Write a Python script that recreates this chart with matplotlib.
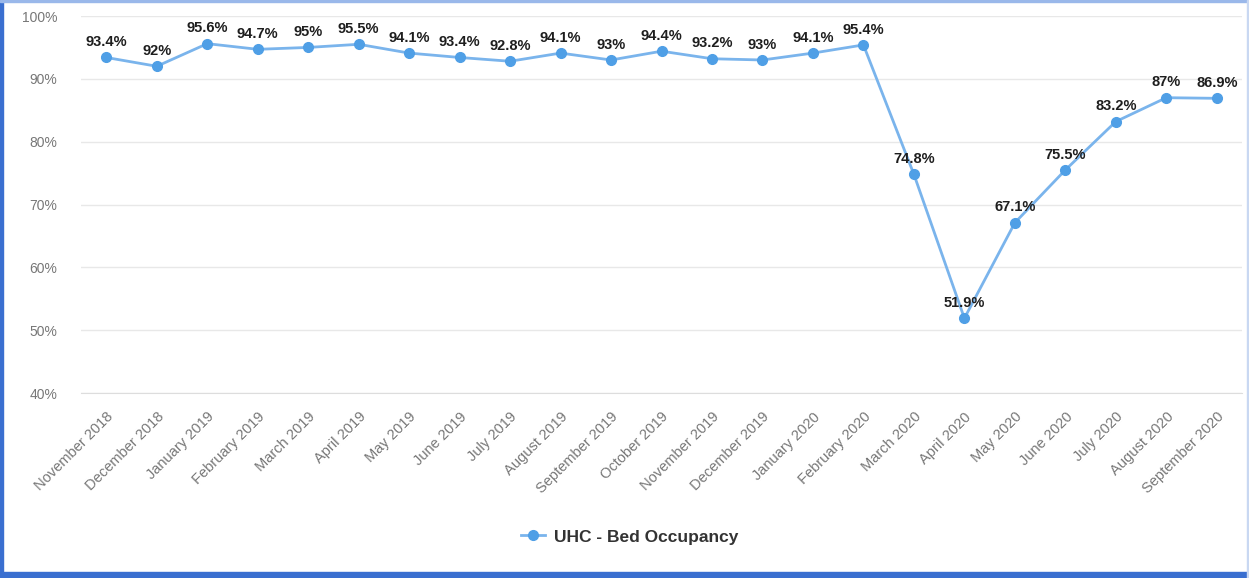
import matplotlib.pyplot as plt
from matplotlib.patches import Rectangle

plt.rcParams['font.family'] = ['Liberation Sans', 'DejaVu Sans']

# 数据
months = ['November 2018', 'December 2018', 'January 2019', 'February 2019', 'March 2019',
          'April 2019', 'May 2019', 'June 2019', 'July 2019', 'August 2019',
          'September 2019', 'October 2019', 'November 2019', 'December 2019',
          'January 2020', 'February 2020', 'March 2020', 'April 2020', 'May 2020',
          'June 2020', 'July 2020', 'August 2020', 'September 2020']
occupancy = [93.4, 92, 95.6, 94.7, 95, 95.5, 94.1, 93.4, 92.8, 94.1, 93, 94.4, 93.2,
             93, 94.1, 95.4, 74.8, 51.9, 67.1, 75.5, 83.2, 87, 86.9]
y_ticks = [40, 50, 60, 70, 80, 90, 100]

fig = plt.figure(figsize=(12.49, 5.78), dpi=100)
ax = fig.add_axes([0.0649, 0.320, 0.9295, 0.6523])

x = list(range(len(months)))
ax.plot(x, occupancy, color='#7ab4ec', linewidth=2, marker='o', markersize=7,
        markerfacecolor='#4f9fe6', markeredgecolor='#4f9fe6', label='UHC - Bed Occupancy',
        zorder=3)

# 数值标签
for xi, v in zip(x, occupancy):
    ax.annotate(f"{v:g}%", xy=(xi, v), xytext=(0, 6), textcoords='offset points',
                ha='center', va='bottom', fontsize=10.5, fontweight='bold', color='#1e1e1e')

ax.set_xlim(-0.5, len(months) - 0.5)
ax.set_ylim(40, 100)
ax.set_yticks(y_ticks)
ax.set_yticklabels([f"{t}%" for t in y_ticks])
ax.set_xticks(x)
ax.set_xticklabels(months, rotation=45, ha='right', rotation_mode='anchor')
ax.tick_params(axis='both', length=0, colors='#777777')
ax.tick_params(axis='y', labelsize=10, pad=17)
ax.tick_params(axis='x', labelsize=10.5, pad=12)
ax.grid(axis='y', color='#e8e8e8', linewidth=1)
ax.set_axisbelow(True)
for s in ['top', 'right', 'left']:
    ax.spines[s].set_visible(False)
ax.spines['bottom'].set_color('#dddddd')

leg = fig.legend(loc='center', bbox_to_anchor=(0.504, 0.071), frameon=False,
                 prop={'size': 12.5, 'weight': 'bold'}, handlelength=1.4, handletextpad=0.5)
for t in leg.get_texts():
    t.set_color('#333333')

# 外框
fig.patches.append(Rectangle((0, 0), 1, 0.011, transform=fig.transFigure, color='#3a6fd0', zorder=10))
fig.patches.append(Rectangle((0, 0), 0.0025, 1, transform=fig.transFigure, color='#3a6fd0', zorder=10))
fig.patches.append(Rectangle((0, 0.997), 1, 0.003, transform=fig.transFigure, color='#9ab8ea', zorder=10))
fig.patches.append(Rectangle((0.998, 0), 0.002, 1, transform=fig.transFigure, color='#c9d8f2', zorder=10))

plt.savefig('out.png', dpi=100)
plt.close()
